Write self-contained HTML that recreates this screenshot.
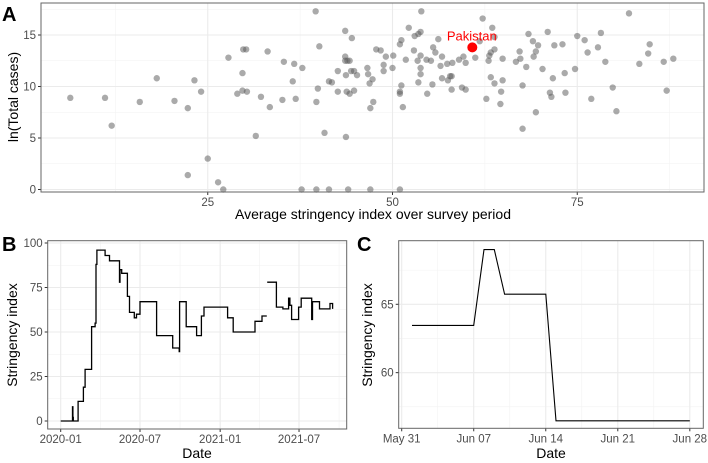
<!DOCTYPE html>
<html><head><meta charset="utf-8"><style>
html,body{margin:0;padding:0;background:#fff;}
svg{display:block;font-family:"Liberation Sans",Arial,sans-serif;}
</style></head><body>
<svg id="fig" width="708" height="463" viewBox="0 0 708 463" xmlns="http://www.w3.org/2000/svg">
<text x="2" y="21" font-size="20" font-weight="bold">A</text>
<text x="2" y="251" font-size="20" font-weight="bold">B</text>
<text x="357" y="251" font-size="20" font-weight="bold">C</text>
<text transform="translate(18,97) rotate(-90)" text-anchor="middle" font-size="14" fill="#000">ln(Total cases)</text>
<text x="373" y="219" text-anchor="middle" font-size="14">Average stringency index over survey period</text>
<text transform="translate(17,335) rotate(-90)" text-anchor="middle" font-size="14">Stringency index</text>
<text x="197" y="458" text-anchor="middle" font-size="14">Date</text>
<text transform="translate(372,335) rotate(-90)" text-anchor="middle" font-size="14">Stringency index</text>
<text x="551" y="458" text-anchor="middle" font-size="14">Date</text>
</svg>
<script>
// Panel A data
const aX = [6.4,11.1,12.0,15.8,18.1,20.5,22.3,22.3,23.2,24.1,25.0,26.4,27.1,27.8,29.0,29.7,29.7,29.8,30.2,30.3,31.5,32.2,33.1,33.4,35.1,35.3,36.5,36.7,36.9,37.7,37.8,39.6,39.7,39.7,39.9,40.1,40.8,41.4,41.4,41.8,42.6,42.6,43.6,43.6,43.6,43.9,44.2,43.7,43.7,43.8,44.0,44.2,44.4,44.5,44.8,44.8,45.2,
53.9,62.2,82.0,52.2,53.8,53.0,53.5,51.2,51.0,56.2,55.5,47.8,48.4,52.9,55.8,53.8,49.1,50.1,51.8,53.4,54.6,55.2,56.7,59.0,59.6,59.9,57.4,58.1,56.5,48.8,46.6,46.7,48.8,50.0,53.8,53.8,47.3,46.9,56.7,57.5,57.8,58.0,53.5,55.4,51.2,51.0,51.0,58.0,59.4,59.9,54.7,47.4,47.0,51.4,
61.2,61.8,63.5,63.8,63.3,63.1,63.8,63.0,64.9,63.3,64.9,63.8,64.7,64.6,62.7,68.4,71.0,69.0,69.7,71.9,73.0,67.2,69.4,69.1,66.7,67.3,68.1,70.3,73.3,71.7,74.7,67.6,71.3,71.5,73.4,69.4,67.6,75.0,76.0,78.2,76.4,77.8,78.8,76.9,79.8,80.3,84.8,84.6,83.4,86.7,88.0,87.1,47.0,51.0];
const aY = [8.9,8.9,6.2,8.5,10.8,8.6,7.9,1.4,10.6,9.5,3.0,0.7,0,12.8,9.3,11.3,9.6,13.6,13.6,9.5,5.2,9.0,13.4,8.0,8.7,12.4,10.5,12.2,8.8,0,11.8,17.3,8.5,0,9.8,13.9,5.5,0,10.5,10.4,11.5,9.5,15.4,12.9,12.5,12.5,12.5,11.1,5.1,9.5,0,9.3,11.5,14.7,11.5,9.6,11.1,
17.3,16.6,17.1,15.7,15.3,14.9,15.1,14.5,14.1,14.6,13.8,13.6,13.5,13.5,13.3,13.0,12.9,13.0,12.6,12.5,12.6,12.5,12.9,12.6,12.9,12.3,12.2,12.3,12.0,12.1,11.8,11.2,11.5,11.8,11.8,11.2,10.7,10.3,10.8,10.6,11.0,11.0,10.4,10.2,10.1,9.5,9.3,9.7,9.9,9.7,9.3,8.5,7.9,8.0,
12.8,14.4,15.7,14.8,13.3,13.0,13.6,12.5,12.7,10.9,10.6,10.3,9.5,8.3,8.8,15.1,15.3,14.4,14.0,14.0,14.1,13.4,13.4,12.9,12.4,12.7,11.9,11.7,11.3,10.8,11.7,10.1,9.4,9.0,9.4,7.5,5.9,14.9,14.5,15.2,13.3,13.8,12.4,8.8,9.9,7.6,14.1,13.2,12.2,12.4,12.7,9.6,0,0];
const highlightX = [60.8];
const highlightY = [13.8];
const highlightLabel = ["Pakistan"];
const aXTicks = [25,50,75];
const aYTicks = [0,5,10,15];

// Panel B data (days since 2020-01-01, step values; null = gap)
const bDays = [0,27,28,29,31,40,52,56,71,79,81,83,102,112,135,136,140,153,158,169,174,182,220,257,272,273,288,312,323,329,383,396,446,462,473,474,495,510,523,526,530,546,552,576,578,594,618,624];
const bVals = [0,8,2,0,0,11,19,29,53,55,88,96,93,90,78,85,83,70,61,58,60,67,48,41,39,67,53,48,59,64,58,50,56,59,null,78,64,63,69,65,57,64,69,57,67,63,66,63];
const bYTicks = [0,25,50,75,100];
const bXTickDays = [0,182,366,547];
const bXTickLabels = ["2020-01","2020-07","2021-01","2021-07"];

// Panel C data (days since May 31)
const cDays = [1,7,8,9,10,14,15,28];
const cVals = [63.46,63.46,69.0,69.0,65.74,65.74,56.48,56.48];
const cYTicks = [60,65];
const cXTickDays = [0,7,14,21,28];
const cXTickLabels = ["May 31","Jun 07","Jun 14","Jun 21","Jun 28"];

const NS = "http://www.w3.org/2000/svg";
const svg = document.getElementById("fig");
function mk(tag, attrs){const e=document.createElementNS(NS,tag);for(const k in attrs)e.setAttribute(k,attrs[k]);svg.appendChild(e);return e;}

function panel(p, xs, ys, xMajor, xMinor, yMajor, yMinor, xLabels, yLabels){
  for(const v of xMinor){const l=mk("line",{x1:xs(v),x2:xs(v),y1:p.t,y2:p.b,stroke:"#f2f2f2","stroke-width":0.6});
    
    }
  for(const v of yMinor){const l=mk("line",{x1:p.l,x2:p.r,y1:ys(v),y2:ys(v),stroke:"#f2f2f2","stroke-width":0.6});
    
    }
  xMajor.forEach((v,i)=>{const l=mk("line",{x1:xs(v),x2:xs(v),y1:p.t,y2:p.b,stroke:"#ebebeb","stroke-width":1.1});
    
    
    const tk=mk("line",{x1:xs(v),x2:xs(v),y1:p.b,y2:p.b+3,stroke:"#333","stroke-width":1});
    
    
    const t=mk("text",{x:xs(v),y:p.b+14,"text-anchor":"middle","font-size":11.5,fill:"#4d4d4d"});t.textContent=xLabels[i];
    
    });
  yMajor.forEach((v,i)=>{const l=mk("line",{x1:p.l,x2:p.r,y1:ys(v),y2:ys(v),stroke:"#ebebeb","stroke-width":1.1});
    
    
    const tk=mk("line",{x1:p.l-3,x2:p.l,y1:ys(v),y2:ys(v),stroke:"#333","stroke-width":1});
    
    
    const t=mk("text",{x:p.l-5,y:ys(v)+4,"text-anchor":"end","font-size":11.5,fill:"#4d4d4d"});t.textContent=yLabels[i];
    
    });
}
function border(p){const r=mk("rect",{x:p.l,y:p.t,width:p.r-p.l,height:p.b-p.t,fill:"none",stroke:"#666","stroke-width":1});
  
  }

// Panel A
const pA={id:"a",l:41,t:3,r:704,b:192};
const axA=v=>23+v*7.39, ayA=v=>189.5-v*10.3;
panel(pA,axA,ayA,aXTicks,[12.5,37.5,62.5,87.5],aYTicks,[2.5,7.5,12.5,17.5],aXTicks.map(String),aYTicks.map(String));
for(let i=0;i<aX.length;i++){const c=mk("circle",{cx:axA(aX[i]),cy:ayA(aY[i]),r:3.2,fill:"#555","fill-opacity":0.5});
  
  }
for(let i=0;i<highlightX.length;i++){
  const c=mk("circle",{cx:axA(highlightX[i]),cy:ayA(highlightY[i]),r:5,fill:"#ff0000"});
  
  
  const t=mk("text",{x:axA(highlightX[i])-0.5,y:ayA(highlightY[i])-7,"text-anchor":"middle","font-size":13,fill:"#ff0000"});t.textContent=highlightLabel[i];
  
  
}
border(pA);

// Panel B
const pB={id:"b",l:47.7,t:240.7,r:346.7,b:429};
const axB=d=>60.7+d*0.4357, ayB=v=>421-v*1.78;
panel(pB,axB,ayB,bXTickDays,[91,274,456,639],bYTicks,[12.5,37.5,62.5,87.5],bXTickLabels,bYTicks.map(String));
{let d="",pen=false;
 for(let i=0;i<bDays.length;i++){
   const v=bVals[i];
   if(v===null){pen=false;continue;}
   const x=axB(bDays[i]).toFixed(1), y=ayB(v).toFixed(1);
   if(!pen){d+=`M${x},${y}`;pen=true;}
   else{d+=`H${x}V${y}`;}
   const nx=(i+1<bDays.length && bVals[i+1]!==null)?null:(i+1<bDays.length?axB(bDays[i+1]).toFixed(1):null);
   if(nx!==null){d+=`H${nx}`;}
 }
 const path=mk("path",{d:d,fill:"none",stroke:"#000","stroke-width":1.3});
 
 }
border(pB);

// Panel C
const pC={id:"c",l:398.7,t:240.7,r:703.3,b:428.3};
const axC=d=>401.7+d*10.29, ayC=v=>304.3-(v-65)*13.67;
panel(pC,axC,ayC,cXTickDays,[3.5,10.5,17.5,24.5],cYTicks,[57.5,62.5,67.5],cXTickLabels,cYTicks.map(String));
{const pts=cDays.map((d,i)=>axC(d).toFixed(1)+","+ayC(cVals[i]).toFixed(1)).join(" ");
 const pl=mk("polyline",{points:pts,fill:"none",stroke:"#000","stroke-width":1.1});
 
 }
border(pC);
</script>
</body></html>
